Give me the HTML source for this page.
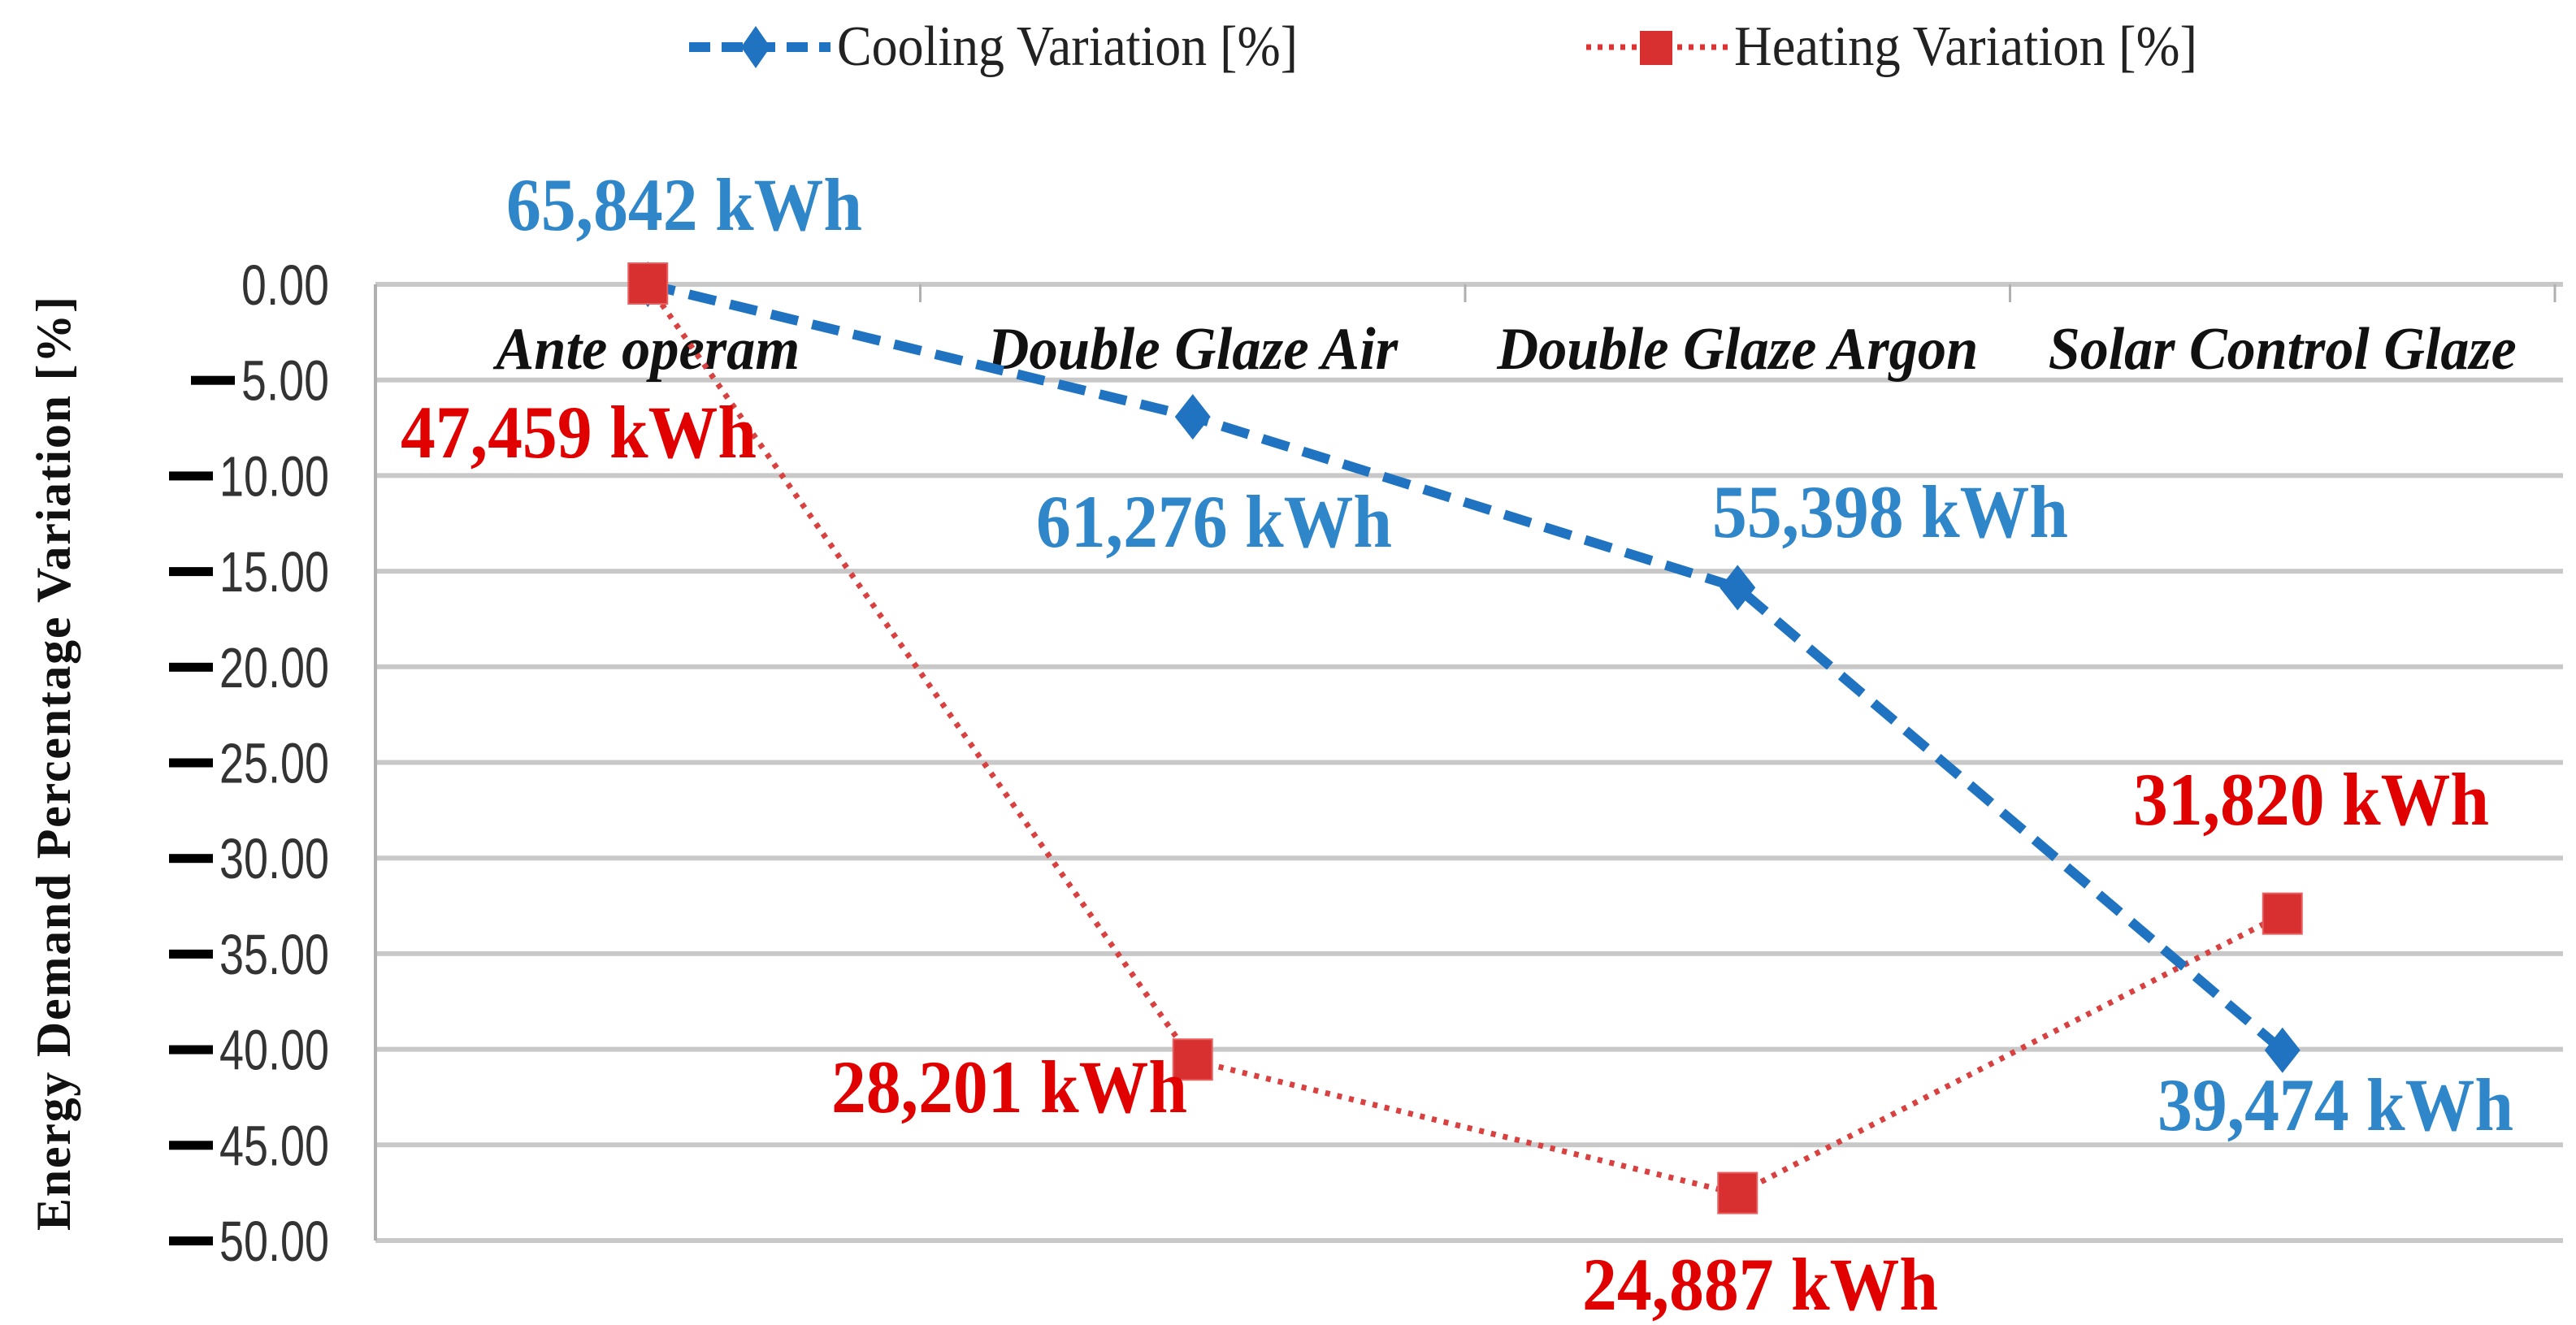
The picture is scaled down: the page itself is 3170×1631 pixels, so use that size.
<!DOCTYPE html>
<html><head><meta charset="utf-8"><style>
html,body{margin:0;padding:0;background:#fff;}
svg{display:block;}
</style></head><body>
<svg id="chart" width="3170" height="1631" viewBox="0 0 3170 1631" xmlns="http://www.w3.org/2000/svg">
<g id="legend">
 <g>
  <line x1="848" y1="58" x2="1022" y2="58" stroke="#1f73c0" stroke-width="12" stroke-dasharray="26,14"/>
  <polygon points="930,32 948,58 930,84 912,58" fill="#1f73c0"/>
  <text x="1030" y="80" font-family="Liberation Serif, serif" font-size="70" fill="#222" textLength="567" lengthAdjust="spacingAndGlyphs">Cooling Variation [%]</text>
 </g>
 <g>
  <line x1="1952" y1="58" x2="2126" y2="58" stroke="#d33" stroke-width="7" stroke-dasharray="6,8"/>
  <rect x="2018" y="38" width="40" height="42" fill="#d83030"/>
  <text x="2134" y="80" font-family="Liberation Serif, serif" font-size="70" fill="#222" textLength="570" lengthAdjust="spacingAndGlyphs">Heating Variation [%]</text>
 </g>
</g>
<g id="grid"></g>
<g id="yticks"></g>
<g id="xcats"></g>
<text transform="translate(86,940) rotate(-90)" text-anchor="middle" font-family="Liberation Serif, serif" font-weight="bold" font-size="60" fill="#111" textLength="1150" lengthAdjust="spacing">Energy Demand Percentage Variation [%]</text>
<g id="series"></g>
<g id="labels"></g>
</svg>
<script>
const categories = ["Ante operam","Double Glaze Air","Double Glaze Argon","Solar Control Glaze"];
const coolingValues = [0, -6.93, -15.86, -40.05];
const heatingValues = [0, -40.58, -47.56, -32.95];
const coolingLabels = ["65,842 kWh","61,276 kWh","55,398 kWh","39,474 kWh"];
const heatingLabels = ["47,459 kWh","28,201 kWh","24,887 kWh","31,820 kWh"];
const yTicks = [0,-5,-10,-15,-20,-25,-30,-35,-40,-45,-50];

const NS="http://www.w3.org/2000/svg";
const L=462,R=3144,T=350,B=1527;
const yS=v=>T+(0-v)/50*(B-T);
const xS=i=>L+(i+0.5)*(R-L)/categories.length;
function mk(tag,attrs,parent){const e=document.createElementNS(NS,tag);for(const k in attrs)e.setAttribute(k,attrs[k]);parent.appendChild(e);return e;}
const grid=document.getElementById('grid'),yt=document.getElementById('yticks'),xc=document.getElementById('xcats'),ser=document.getElementById('series'),lab=document.getElementById('labels');

yTicks.forEach(v=>{
  const g=mk('line',{x1:L,x2:R+10,y1:yS(v),y2:yS(v),stroke:'#c8c8c8','stroke-width':6},grid);
  
  
  const t=mk('text',{x:405,y:yS(v)+25,'text-anchor':'end','font-family':'Liberation Sans, sans-serif','font-size':70,fill:'#333'},yt);
  
  
  const s=Math.abs(v).toFixed(2);
  t.textContent=s;
  t.setAttribute('textLength',s.length*27);
  t.setAttribute('lengthAdjust','spacingAndGlyphs');
  if(v<0){
    const w=s.length*27;
    const m=mk('rect',{x:405-w-62,y:yS(v)-5,width:54,height:11,fill:'#000'},yt);
    
    
  }
});
const ax=mk('line',{x1:L,x2:L,y1:T,y2:B,stroke:'#b0b0b0','stroke-width':4},yt);


const catWidths=[374,505,592,576];
categories.forEach((c,i)=>{
  const xb=L+(i+1)*(R-L)/categories.length;
  const tk=mk('line',{x1:xb,x2:xb,y1:T,y2:T+22,stroke:'#b0b0b0','stroke-width':3},xc);
  
  
  const t=mk('text',{x:xS(i),y:454,'text-anchor':'middle','font-family':'Liberation Serif, serif','font-style':'italic','font-weight':'bold','font-size':74,fill:'#111',textLength:catWidths[i],lengthAdjust:'spacingAndGlyphs'},xc);
  
  
  t.textContent=c;
});

function pts(vals){return vals.map((v,i)=>xS(i)+','+yS(v)).join(' ');}
const hl=mk('polyline',{points:pts(heatingValues),fill:'none',stroke:'#d94040','stroke-width':7,'stroke-dasharray':'6,9'},ser);


const cl=mk('polyline',{points:pts(coolingValues),fill:'none',stroke:'#1f73c0','stroke-width':12,'stroke-dasharray':'34,18'},ser);


coolingValues.forEach((v,i)=>{
  const x=xS(i),y=yS(v);
  const d=mk('polygon',{points:`${x},${y-28} ${x+22},${y} ${x},${y+28} ${x-22},${y}`,fill:'#1f73c0'},ser);
  
  
});
heatingValues.forEach((v,i)=>{
  const x=xS(i),y=yS(v);
  const r=mk('rect',{x:x-24,y:y-26,width:48,height:50,fill:'#d83030',stroke:'#e86060','stroke-width':2},ser);
  
  
});

const cPos=[[842,283],[1494,673],[2326,661],[2874,1391]];
const hPos=[[712,563],[1242,1369],[2166,1612],[2844,1015]];
function addLabels(arr,pos,color,name){
  arr.forEach((s,i)=>{
    const t=mk('text',{x:pos[i][0],y:pos[i][1],'text-anchor':'middle','font-family':'Liberation Serif, serif','font-weight':'bold','font-size':92,fill:color,textLength:438,lengthAdjust:'spacingAndGlyphs'},lab);
    
    
    t.textContent=s;
  });
}
addLabels(coolingLabels,cPos,'#2f86c8','cooling-value-label');
addLabels(heatingLabels,hPos,'#e00000','heating-value-label');
</script>
</body></html>
